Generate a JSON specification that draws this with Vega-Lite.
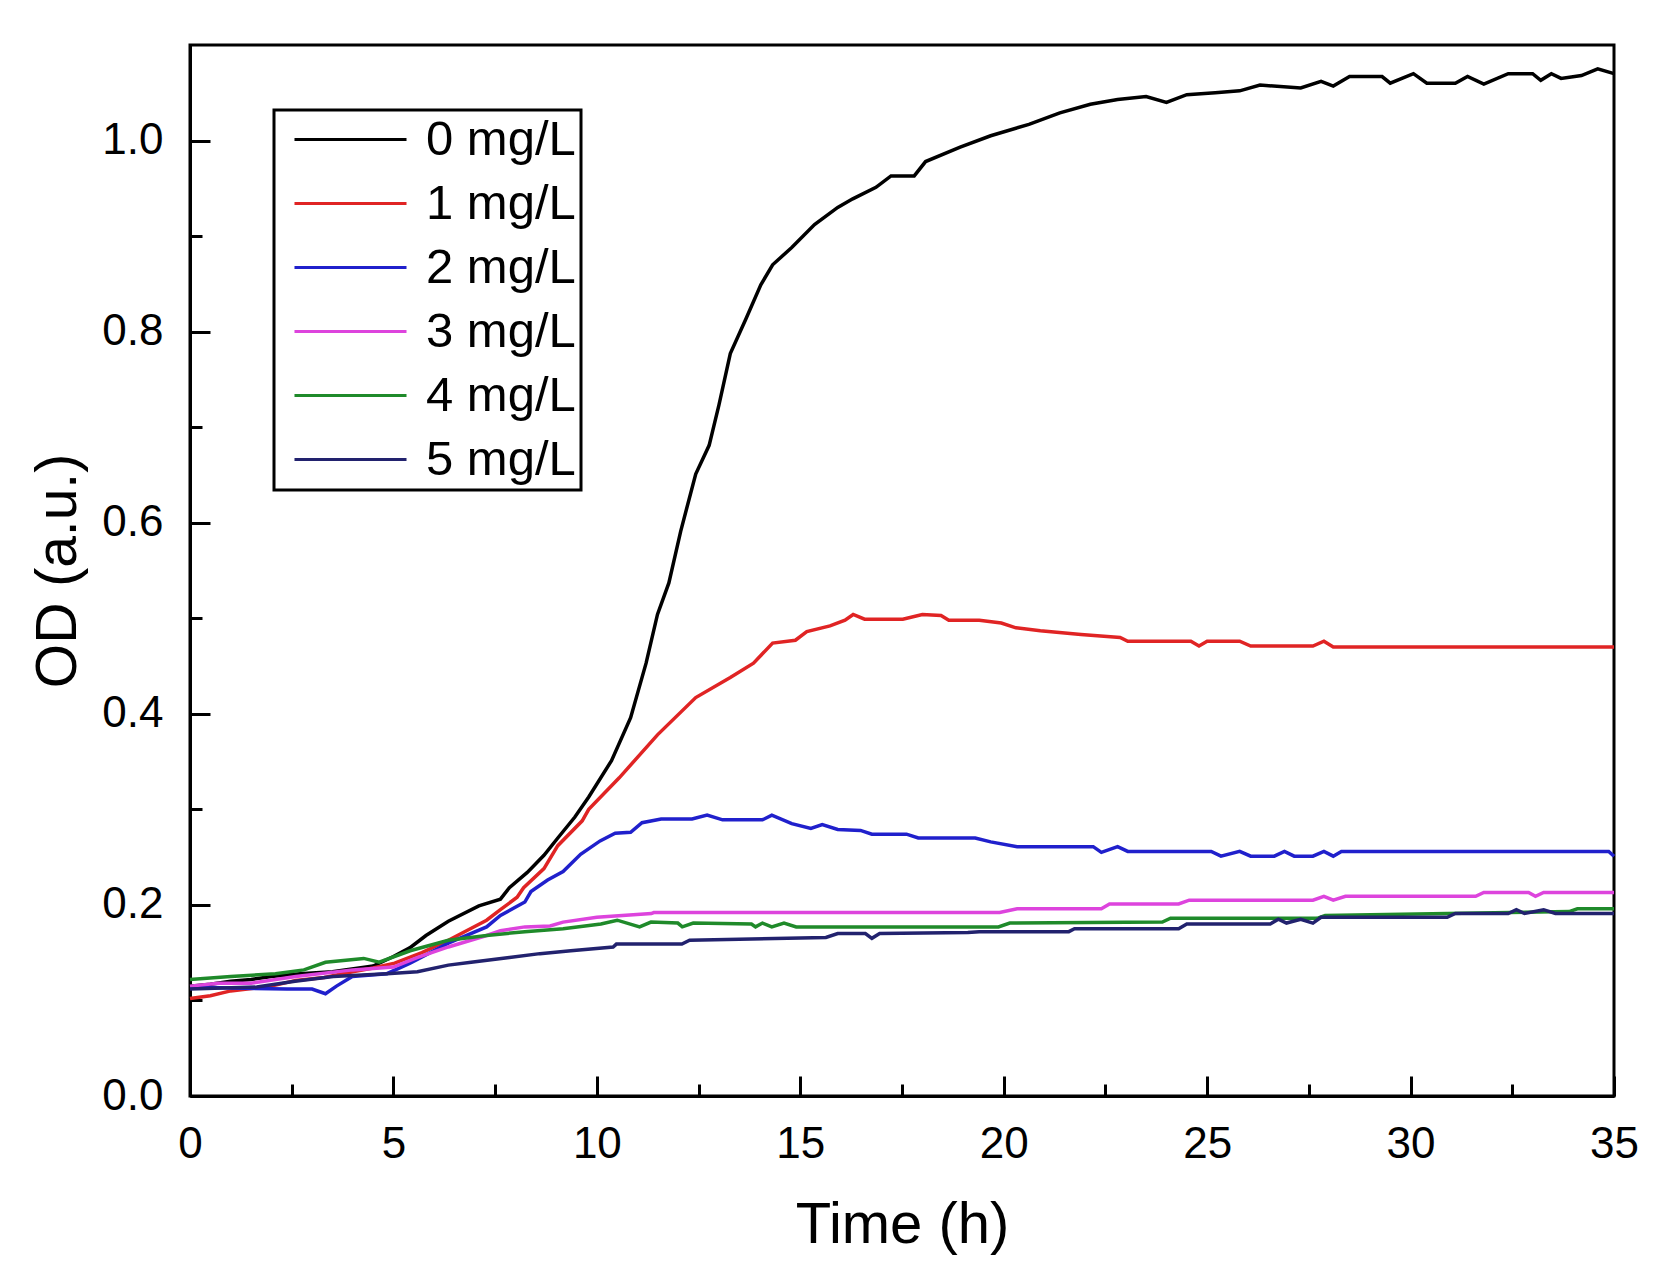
{
  "$schema": "https://vega.github.io/schema/vega-lite/v6.json",
  "width": 1424,
  "height": 1051,
  "autosize": {"type": "none"},
  "padding": {"left": 190, "top": 45, "right": 42, "bottom": 190},
  "background": "white",
  "config": {
    "view": {"stroke": "black", "strokeWidth": 3},
    "font": "Liberation Sans",
    "legend": {"strokeWidth": 3},
    "axis": {
      "domainColor": "black", "domainWidth": 3,
      "tickColor": "black", "tickWidth": 3,
      "labelColor": "black", "titleColor": "black",
      "labelFont": "Liberation Sans", "titleFont": "Liberation Sans",
      "titleFontWeight": "normal", "grid": false, "labelFlush": false
    }
  },
  "data": {
    "values": [
      {"t": 0, "od": 0.115, "c": "0 mg/L"}, {"t": 0.5, "od": 0.117, "c": "0 mg/L"}, {"t": 1, "od": 0.12, "c": "0 mg/L"},
      {"t": 1.5, "od": 0.122, "c": "0 mg/L"}, {"t": 2, "od": 0.125, "c": "0 mg/L"}, {"t": 2.7, "od": 0.128, "c": "0 mg/L"},
      {"t": 3.5, "od": 0.13, "c": "0 mg/L"}, {"t": 4.5, "od": 0.136, "c": "0 mg/L"}, {"t": 5, "od": 0.146, "c": "0 mg/L"},
      {"t": 5.4, "od": 0.155, "c": "0 mg/L"}, {"t": 5.8, "od": 0.168, "c": "0 mg/L"}, {"t": 6.35, "od": 0.183, "c": "0 mg/L"},
      {"t": 7.1, "od": 0.199, "c": "0 mg/L"}, {"t": 7.63, "od": 0.206, "c": "0 mg/L"}, {"t": 7.85, "od": 0.218, "c": "0 mg/L"},
      {"t": 8.29, "od": 0.234, "c": "0 mg/L"}, {"t": 8.7, "od": 0.252, "c": "0 mg/L"}, {"t": 9.04, "od": 0.27, "c": "0 mg/L"},
      {"t": 9.46, "od": 0.292, "c": "0 mg/L"}, {"t": 9.8, "od": 0.313, "c": "0 mg/L"}, {"t": 10.36, "od": 0.351, "c": "0 mg/L"},
      {"t": 10.83, "od": 0.396, "c": "0 mg/L"}, {"t": 11.21, "od": 0.453, "c": "0 mg/L"}, {"t": 11.49, "od": 0.504, "c": "0 mg/L"},
      {"t": 11.77, "od": 0.537, "c": "0 mg/L"}, {"t": 12.06, "od": 0.591, "c": "0 mg/L"}, {"t": 12.43, "od": 0.651, "c": "0 mg/L"},
      {"t": 12.76, "od": 0.681, "c": "0 mg/L"}, {"t": 13.0, "od": 0.723, "c": "0 mg/L"}, {"t": 13.28, "od": 0.777, "c": "0 mg/L"},
      {"t": 13.66, "od": 0.813, "c": "0 mg/L"}, {"t": 14.03, "od": 0.849, "c": "0 mg/L"}, {"t": 14.32, "od": 0.87, "c": "0 mg/L"},
      {"t": 14.79, "od": 0.888, "c": "0 mg/L"}, {"t": 15.35, "od": 0.912, "c": "0 mg/L"}, {"t": 15.92, "od": 0.93, "c": "0 mg/L"},
      {"t": 16.29, "od": 0.939, "c": "0 mg/L"}, {"t": 16.86, "od": 0.951, "c": "0 mg/L"}, {"t": 17.23, "od": 0.963, "c": "0 mg/L"},
      {"t": 17.8, "od": 0.963, "c": "0 mg/L"}, {"t": 18.08, "od": 0.978, "c": "0 mg/L"}, {"t": 18.93, "od": 0.993, "c": "0 mg/L"},
      {"t": 19.68, "od": 1.005, "c": "0 mg/L"}, {"t": 20.62, "od": 1.017, "c": "0 mg/L"}, {"t": 21.38, "od": 1.029, "c": "0 mg/L"},
      {"t": 22.13, "od": 1.038, "c": "0 mg/L"}, {"t": 22.8, "od": 1.043, "c": "0 mg/L"}, {"t": 23.5, "od": 1.046, "c": "0 mg/L"},
      {"t": 24.0, "od": 1.04, "c": "0 mg/L"}, {"t": 24.5, "od": 1.048, "c": "0 mg/L"}, {"t": 25.2, "od": 1.05, "c": "0 mg/L"},
      {"t": 25.8, "od": 1.052, "c": "0 mg/L"}, {"t": 26.3, "od": 1.058, "c": "0 mg/L"}, {"t": 27.3, "od": 1.055, "c": "0 mg/L"},
      {"t": 27.8, "od": 1.062, "c": "0 mg/L"}, {"t": 28.1, "od": 1.057, "c": "0 mg/L"}, {"t": 28.5, "od": 1.067, "c": "0 mg/L"},
      {"t": 29.3, "od": 1.067, "c": "0 mg/L"}, {"t": 29.5, "od": 1.06, "c": "0 mg/L"}, {"t": 30.07, "od": 1.07, "c": "0 mg/L"},
      {"t": 30.4, "od": 1.06, "c": "0 mg/L"}, {"t": 31.1, "od": 1.06, "c": "0 mg/L"}, {"t": 31.4, "od": 1.067, "c": "0 mg/L"},
      {"t": 31.8, "od": 1.059, "c": "0 mg/L"}, {"t": 32.4, "od": 1.07, "c": "0 mg/L"}, {"t": 33.0, "od": 1.07, "c": "0 mg/L"},
      {"t": 33.2, "od": 1.063, "c": "0 mg/L"}, {"t": 33.46, "od": 1.07, "c": "0 mg/L"}, {"t": 33.7, "od": 1.065, "c": "0 mg/L"},
      {"t": 34.2, "od": 1.068, "c": "0 mg/L"}, {"t": 34.6, "od": 1.075, "c": "0 mg/L"}, {"t": 35, "od": 1.07, "c": "0 mg/L"},

      {"t": 0, "od": 0.102, "c": "1 mg/L"}, {"t": 0.5, "od": 0.105, "c": "1 mg/L"}, {"t": 1, "od": 0.11, "c": "1 mg/L"},
      {"t": 2, "od": 0.115, "c": "1 mg/L"}, {"t": 2.6, "od": 0.121, "c": "1 mg/L"}, {"t": 3.3, "od": 0.124, "c": "1 mg/L"},
      {"t": 4.0, "od": 0.13, "c": "1 mg/L"}, {"t": 4.5, "od": 0.134, "c": "1 mg/L"}, {"t": 5.03, "od": 0.139, "c": "1 mg/L"},
      {"t": 5.7, "od": 0.15, "c": "1 mg/L"}, {"t": 6.35, "od": 0.163, "c": "1 mg/L"}, {"t": 7.29, "od": 0.184, "c": "1 mg/L"},
      {"t": 7.63, "od": 0.195, "c": "1 mg/L"}, {"t": 8.04, "od": 0.208, "c": "1 mg/L"}, {"t": 8.2, "od": 0.218, "c": "1 mg/L"},
      {"t": 8.7, "od": 0.238, "c": "1 mg/L"}, {"t": 9.04, "od": 0.262, "c": "1 mg/L"}, {"t": 9.64, "od": 0.288, "c": "1 mg/L"},
      {"t": 9.8, "od": 0.3, "c": "1 mg/L"}, {"t": 10.55, "od": 0.333, "c": "1 mg/L"}, {"t": 11.49, "od": 0.378, "c": "1 mg/L"},
      {"t": 12.43, "od": 0.417, "c": "1 mg/L"}, {"t": 13.28, "od": 0.438, "c": "1 mg/L"}, {"t": 13.85, "od": 0.453, "c": "1 mg/L"},
      {"t": 14.32, "od": 0.474, "c": "1 mg/L"}, {"t": 14.88, "od": 0.477, "c": "1 mg/L"}, {"t": 15.16, "od": 0.486, "c": "1 mg/L"},
      {"t": 15.73, "od": 0.492, "c": "1 mg/L"}, {"t": 16.1, "od": 0.498, "c": "1 mg/L"}, {"t": 16.3, "od": 0.504, "c": "1 mg/L"},
      {"t": 16.58, "od": 0.499, "c": "1 mg/L"}, {"t": 17.52, "od": 0.499, "c": "1 mg/L"}, {"t": 18.0, "od": 0.504, "c": "1 mg/L"},
      {"t": 18.46, "od": 0.503, "c": "1 mg/L"}, {"t": 18.65, "od": 0.498, "c": "1 mg/L"}, {"t": 19.4, "od": 0.498, "c": "1 mg/L"},
      {"t": 19.94, "od": 0.495, "c": "1 mg/L"}, {"t": 20.3, "od": 0.49, "c": "1 mg/L"}, {"t": 20.9, "od": 0.487, "c": "1 mg/L"},
      {"t": 21.9, "od": 0.483, "c": "1 mg/L"}, {"t": 22.86, "od": 0.48, "c": "1 mg/L"}, {"t": 23.05, "od": 0.476, "c": "1 mg/L"},
      {"t": 24.6, "od": 0.476, "c": "1 mg/L"}, {"t": 24.8, "od": 0.471, "c": "1 mg/L"}, {"t": 25.0, "od": 0.476, "c": "1 mg/L"},
      {"t": 25.8, "od": 0.476, "c": "1 mg/L"}, {"t": 26.07, "od": 0.471, "c": "1 mg/L"}, {"t": 27.6, "od": 0.471, "c": "1 mg/L"},
      {"t": 27.87, "od": 0.476, "c": "1 mg/L"}, {"t": 28.1, "od": 0.47, "c": "1 mg/L"}, {"t": 35, "od": 0.47, "c": "1 mg/L"},

      {"t": 0, "od": 0.114, "c": "2 mg/L"}, {"t": 1, "od": 0.113, "c": "2 mg/L"}, {"t": 2.39, "od": 0.112, "c": "2 mg/L"},
      {"t": 3.0, "od": 0.112, "c": "2 mg/L"}, {"t": 3.33, "od": 0.107, "c": "2 mg/L"}, {"t": 3.6, "od": 0.115, "c": "2 mg/L"},
      {"t": 3.99, "od": 0.125, "c": "2 mg/L"}, {"t": 4.84, "od": 0.128, "c": "2 mg/L"}, {"t": 5.41, "od": 0.139, "c": "2 mg/L"},
      {"t": 6.35, "od": 0.16, "c": "2 mg/L"}, {"t": 7.29, "od": 0.177, "c": "2 mg/L"}, {"t": 7.63, "od": 0.189, "c": "2 mg/L"},
      {"t": 8.23, "od": 0.203, "c": "2 mg/L"}, {"t": 8.38, "od": 0.214, "c": "2 mg/L"}, {"t": 8.79, "od": 0.226, "c": "2 mg/L"},
      {"t": 9.17, "od": 0.235, "c": "2 mg/L"}, {"t": 9.6, "od": 0.253, "c": "2 mg/L"}, {"t": 10.08, "od": 0.267, "c": "2 mg/L"},
      {"t": 10.45, "od": 0.275, "c": "2 mg/L"}, {"t": 10.83, "od": 0.276, "c": "2 mg/L"}, {"t": 11.11, "od": 0.286, "c": "2 mg/L"},
      {"t": 11.58, "od": 0.29, "c": "2 mg/L"}, {"t": 12.34, "od": 0.29, "c": "2 mg/L"}, {"t": 12.71, "od": 0.294, "c": "2 mg/L"},
      {"t": 13.09, "od": 0.289, "c": "2 mg/L"}, {"t": 14.07, "od": 0.289, "c": "2 mg/L"}, {"t": 14.3, "od": 0.294, "c": "2 mg/L"},
      {"t": 14.79, "od": 0.285, "c": "2 mg/L"}, {"t": 15.26, "od": 0.28, "c": "2 mg/L"}, {"t": 15.54, "od": 0.284, "c": "2 mg/L"},
      {"t": 15.92, "od": 0.279, "c": "2 mg/L"}, {"t": 16.48, "od": 0.278, "c": "2 mg/L"}, {"t": 16.76, "od": 0.274, "c": "2 mg/L"},
      {"t": 17.61, "od": 0.274, "c": "2 mg/L"}, {"t": 17.9, "od": 0.27, "c": "2 mg/L"}, {"t": 19.3, "od": 0.27, "c": "2 mg/L"},
      {"t": 19.68, "od": 0.266, "c": "2 mg/L"}, {"t": 20.33, "od": 0.261, "c": "2 mg/L"}, {"t": 22.2, "od": 0.261, "c": "2 mg/L"},
      {"t": 22.4, "od": 0.255, "c": "2 mg/L"}, {"t": 22.8, "od": 0.261, "c": "2 mg/L"}, {"t": 23.05, "od": 0.256, "c": "2 mg/L"},
      {"t": 25.1, "od": 0.256, "c": "2 mg/L"}, {"t": 25.34, "od": 0.251, "c": "2 mg/L"}, {"t": 25.8, "od": 0.256, "c": "2 mg/L"},
      {"t": 26.07, "od": 0.251, "c": "2 mg/L"}, {"t": 26.65, "od": 0.251, "c": "2 mg/L"}, {"t": 26.9, "od": 0.256, "c": "2 mg/L"},
      {"t": 27.14, "od": 0.251, "c": "2 mg/L"}, {"t": 27.6, "od": 0.251, "c": "2 mg/L"}, {"t": 27.87, "od": 0.256, "c": "2 mg/L"},
      {"t": 28.1, "od": 0.251, "c": "2 mg/L"}, {"t": 28.3, "od": 0.256, "c": "2 mg/L"}, {"t": 34.87, "od": 0.256, "c": "2 mg/L"},
      {"t": 35, "od": 0.251, "c": "2 mg/L"},

      {"t": 0, "od": 0.115, "c": "3 mg/L"}, {"t": 0.7, "od": 0.118, "c": "3 mg/L"}, {"t": 1.5, "od": 0.118, "c": "3 mg/L"},
      {"t": 2.6, "od": 0.125, "c": "3 mg/L"}, {"t": 4.0, "od": 0.132, "c": "3 mg/L"}, {"t": 5.0, "od": 0.135, "c": "3 mg/L"},
      {"t": 5.6, "od": 0.145, "c": "3 mg/L"}, {"t": 6.35, "od": 0.156, "c": "3 mg/L"}, {"t": 7.29, "od": 0.168, "c": "3 mg/L"},
      {"t": 7.63, "od": 0.173, "c": "3 mg/L"}, {"t": 8.23, "od": 0.177, "c": "3 mg/L"}, {"t": 8.85, "od": 0.178, "c": "3 mg/L"},
      {"t": 9.17, "od": 0.182, "c": "3 mg/L"}, {"t": 10.0, "od": 0.187, "c": "3 mg/L"}, {"t": 11.34, "od": 0.191, "c": "3 mg/L"},
      {"t": 11.4, "od": 0.192, "c": "3 mg/L"}, {"t": 19.9, "od": 0.192, "c": "3 mg/L"}, {"t": 20.33, "od": 0.196, "c": "3 mg/L"},
      {"t": 22.4, "od": 0.196, "c": "3 mg/L"}, {"t": 22.6, "od": 0.201, "c": "3 mg/L"}, {"t": 24.3, "od": 0.201, "c": "3 mg/L"},
      {"t": 24.56, "od": 0.205, "c": "3 mg/L"}, {"t": 27.6, "od": 0.205, "c": "3 mg/L"}, {"t": 27.87, "od": 0.209, "c": "3 mg/L"},
      {"t": 28.1, "od": 0.205, "c": "3 mg/L"}, {"t": 28.4, "od": 0.209, "c": "3 mg/L"}, {"t": 31.6, "od": 0.209, "c": "3 mg/L"},
      {"t": 31.8, "od": 0.213, "c": "3 mg/L"}, {"t": 32.9, "od": 0.213, "c": "3 mg/L"}, {"t": 33.07, "od": 0.209, "c": "3 mg/L"},
      {"t": 33.27, "od": 0.213, "c": "3 mg/L"}, {"t": 35, "od": 0.213, "c": "3 mg/L"},

      {"t": 0, "od": 0.122, "c": "4 mg/L"}, {"t": 1, "od": 0.125, "c": "4 mg/L"}, {"t": 2.1, "od": 0.128, "c": "4 mg/L"},
      {"t": 2.8, "od": 0.132, "c": "4 mg/L"}, {"t": 3.33, "od": 0.14, "c": "4 mg/L"}, {"t": 4.27, "od": 0.144, "c": "4 mg/L"},
      {"t": 4.65, "od": 0.14, "c": "4 mg/L"}, {"t": 5.41, "od": 0.152, "c": "4 mg/L"}, {"t": 6.35, "od": 0.163, "c": "4 mg/L"},
      {"t": 7.29, "od": 0.168, "c": "4 mg/L"}, {"t": 8.23, "od": 0.172, "c": "4 mg/L"}, {"t": 9.17, "od": 0.175, "c": "4 mg/L"},
      {"t": 10.1, "od": 0.18, "c": "4 mg/L"}, {"t": 10.5, "od": 0.184, "c": "4 mg/L"}, {"t": 11.05, "od": 0.177, "c": "4 mg/L"},
      {"t": 11.33, "od": 0.182, "c": "4 mg/L"}, {"t": 11.99, "od": 0.181, "c": "4 mg/L"}, {"t": 12.1, "od": 0.177, "c": "4 mg/L"},
      {"t": 12.37, "od": 0.181, "c": "4 mg/L"}, {"t": 13.8, "od": 0.18, "c": "4 mg/L"}, {"t": 13.9, "od": 0.177, "c": "4 mg/L"},
      {"t": 14.07, "od": 0.181, "c": "4 mg/L"}, {"t": 14.3, "od": 0.177, "c": "4 mg/L"}, {"t": 14.6, "od": 0.181, "c": "4 mg/L"},
      {"t": 14.9, "od": 0.177, "c": "4 mg/L"}, {"t": 19.87, "od": 0.177, "c": "4 mg/L"}, {"t": 20.15, "od": 0.181, "c": "4 mg/L"},
      {"t": 23.9, "od": 0.182, "c": "4 mg/L"}, {"t": 24.1, "od": 0.186, "c": "4 mg/L"}, {"t": 27.7, "od": 0.186, "c": "4 mg/L"},
      {"t": 27.9, "od": 0.189, "c": "4 mg/L"}, {"t": 30.9, "od": 0.191, "c": "4 mg/L"}, {"t": 33.9, "od": 0.193, "c": "4 mg/L"},
      {"t": 34.1, "od": 0.196, "c": "4 mg/L"}, {"t": 35, "od": 0.196, "c": "4 mg/L"},

      {"t": 0, "od": 0.112, "c": "5 mg/L"}, {"t": 1.64, "od": 0.114, "c": "5 mg/L"}, {"t": 2.58, "od": 0.12, "c": "5 mg/L"},
      {"t": 3.52, "od": 0.125, "c": "5 mg/L"}, {"t": 4.84, "od": 0.128, "c": "5 mg/L"}, {"t": 5.59, "od": 0.13, "c": "5 mg/L"},
      {"t": 6.35, "od": 0.137, "c": "5 mg/L"}, {"t": 6.91, "od": 0.14, "c": "5 mg/L"}, {"t": 7.85, "od": 0.145, "c": "5 mg/L"},
      {"t": 8.6, "od": 0.149, "c": "5 mg/L"}, {"t": 9.36, "od": 0.152, "c": "5 mg/L"}, {"t": 10.4, "od": 0.156, "c": "5 mg/L"},
      {"t": 10.48, "od": 0.159, "c": "5 mg/L"}, {"t": 12.09, "od": 0.159, "c": "5 mg/L"}, {"t": 12.28, "od": 0.163, "c": "5 mg/L"},
      {"t": 15.63, "od": 0.166, "c": "5 mg/L"}, {"t": 15.92, "od": 0.17, "c": "5 mg/L"}, {"t": 16.6, "od": 0.17, "c": "5 mg/L"},
      {"t": 16.76, "od": 0.165, "c": "5 mg/L"}, {"t": 16.95, "od": 0.17, "c": "5 mg/L"}, {"t": 19.12, "od": 0.171, "c": "5 mg/L"},
      {"t": 19.4, "od": 0.172, "c": "5 mg/L"}, {"t": 21.6, "od": 0.172, "c": "5 mg/L"}, {"t": 21.74, "od": 0.175, "c": "5 mg/L"},
      {"t": 24.3, "od": 0.175, "c": "5 mg/L"}, {"t": 24.5, "od": 0.18, "c": "5 mg/L"}, {"t": 26.55, "od": 0.18, "c": "5 mg/L"},
      {"t": 26.75, "od": 0.185, "c": "5 mg/L"}, {"t": 26.95, "od": 0.181, "c": "5 mg/L"}, {"t": 27.3, "od": 0.185, "c": "5 mg/L"},
      {"t": 27.6, "od": 0.181, "c": "5 mg/L"}, {"t": 27.8, "od": 0.187, "c": "5 mg/L"}, {"t": 30.9, "od": 0.187, "c": "5 mg/L"},
      {"t": 31.1, "od": 0.191, "c": "5 mg/L"}, {"t": 32.4, "od": 0.191, "c": "5 mg/L"}, {"t": 32.6, "od": 0.195, "c": "5 mg/L"},
      {"t": 32.8, "od": 0.191, "c": "5 mg/L"}, {"t": 33.27, "od": 0.195, "c": "5 mg/L"}, {"t": 33.56, "od": 0.191, "c": "5 mg/L"},
      {"t": 35, "od": 0.191, "c": "5 mg/L"}
    ]
  },
  "layer": [
    {
      "mark": {"type": "line", "strokeWidth": 3.5, "interpolate": "linear"},
      "encoding": {
        "x": {
          "field": "t", "type": "quantitative",
          "scale": {"domain": [0, 35], "nice": false, "zero": false},
          "axis": {
            "title": "Time (h)", "values": [0, 5, 10, 15, 20, 25, 30, 35], "format": "d",
            "tickSize": -20, "labelPadding": 46, "labelFontSize": 44,
            "titleFontSize": 58, "titlePadding": 30, "orient": "bottom"
          }
        },
        "y": {
          "field": "od", "type": "quantitative",
          "scale": {"domain": [0, 1.1], "nice": false},
          "axis": {
            "title": "OD (a.u.)", "values": [0, 0.2, 0.4, 0.6, 0.8, 1.0], "format": ".1f",
            "tickSize": -20, "labelPadding": 47, "labelFontSize": 44,
            "titleFontSize": 57, "titlePadding": 14, "orient": "left"
          }
        },
        "color": {
          "field": "c", "type": "nominal",
          "scale": {
            "domain": ["0 mg/L", "1 mg/L", "2 mg/L", "3 mg/L", "4 mg/L", "5 mg/L"],
            "range": ["#000000", "#e02424", "#2020cc", "#dd44dd", "#1f8a2a", "#22226e"]
          },
          "legend": {
            "title": null, "orient": "none", "legendX": 84, "legendY": 65,
            "symbolType": "M-5,0H5", "symbolSize": 502, "symbolStrokeWidth": 3,
            "labelFontSize": 49, "labelFont": "Liberation Sans", "labelColor": "black",
            "symbolOffset": 47, "labelOffset": 51, "rowPadding": 14, "padding": 5,
            "strokeColor": "black", "fillColor": "white"
          }
        }
      }
    },
    {
      "mark": {"type": "point", "opacity": 0},
      "encoding": {
        "x": {
          "field": "t", "type": "quantitative",
          "axis": {
            "title": null, "values": [2.5, 7.5, 12.5, 17.5, 22.5, 27.5, 32.5],
            "labels": false, "domain": false, "tickSize": -12, "orient": "bottom"
          }
        },
        "y": {
          "field": "od", "type": "quantitative",
          "axis": {
            "title": null, "values": [0.1, 0.3, 0.5, 0.7, 0.9],
            "labels": false, "domain": false, "tickSize": -12, "orient": "left"
          }
        }
      }
    }
  ],
  "resolve": {"axis": {"x": "independent", "y": "independent"}}
}
